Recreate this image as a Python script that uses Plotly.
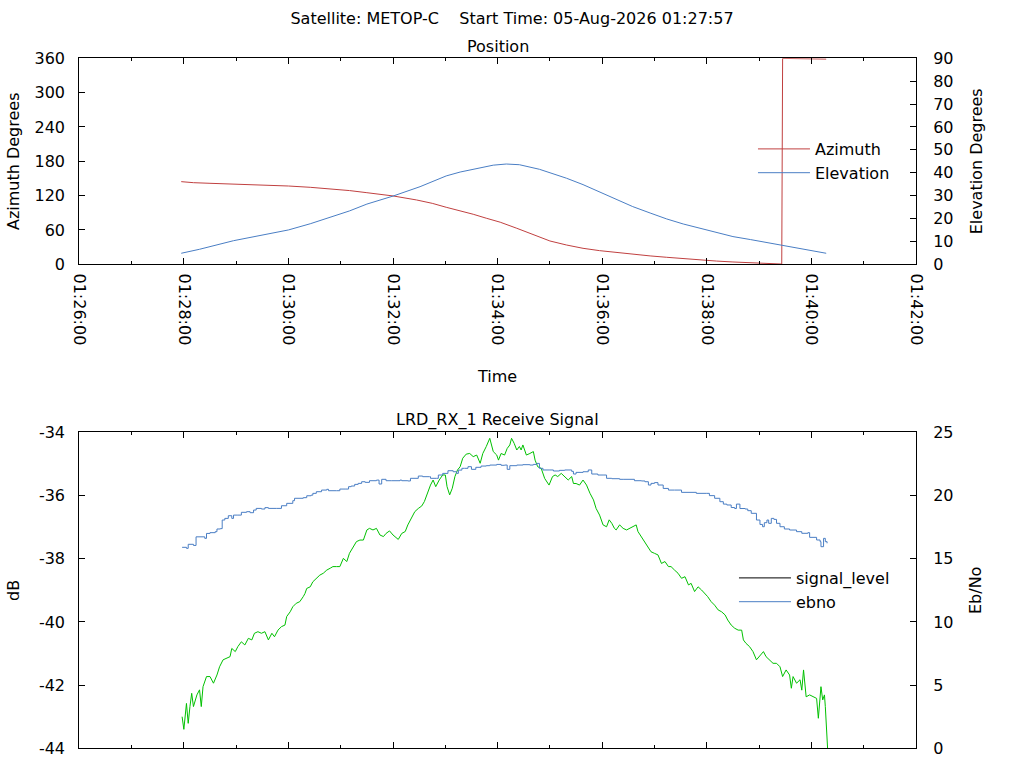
import pandas as pd
import plotly.graph_objects as go

# Passagem do satelite: segundos depois de 01:26:00
inicio = pd.Timestamp("2026-08-05 01:26:00")

# Posicao (azimute e elevacao)
az_seg = [117, 131, 150, 177, 210, 240, 265, 291, 310, 330, 360, 387, 405, 421, 437, 452, 467,
          483, 502, 521, 540, 559, 578, 597, 616, 635, 655, 674, 693, 712, 731, 750, 770, 790,
          800, 806, 807, 822, 840, 857]
azimute = [144.4, 142.6, 141.5, 140.3, 138.8, 136.8, 134.5, 131.6, 128.8, 125.1, 119.4, 112.4,
           106.5, 99.6, 93.5, 87.4, 80.5, 73.5, 62.9, 51.2, 40.7, 33.7, 27.9, 23.8, 20.5, 17.5,
           14.6, 12.2, 9.8, 7.5, 5.6, 4.0, 2.7, 1.7, 1.0, 0.4, 359.8, 359.3, 358.9, 358.6]

el_seg = [117, 138, 177, 210, 240, 265, 291, 310, 330, 360, 391, 421, 437, 452, 467, 475, 490,
          505, 528, 545, 559, 578, 597, 616, 635, 655, 674, 693, 712, 731, 750, 770, 788, 808,
          827, 842, 857]
elevacao = [4.8, 6.55, 10.3, 12.8, 15.0, 17.7, 20.8, 23.3, 26.3, 29.8, 33.9, 38.6, 40.3, 41.6,
            42.8, 43.3, 43.8, 43.5, 41.5, 39.5, 37.6, 34.8, 31.7, 28.4, 25.2, 22.4, 19.8, 17.6,
            15.7, 13.9, 12.1, 10.8, 9.6, 8.3, 7.0, 5.9, 4.8]

# Sinal recebido (dB) - linha verde
sinal_seg = [118, 120, 123, 125, 127, 129, 131, 135, 138, 140, 142, 146, 150, 154, 158, 161, 165,
             169, 173, 175, 179, 182, 186, 190, 194, 198, 201, 205, 209, 213, 217, 221, 224, 228,
             232, 236, 238, 242, 245, 249, 253, 257, 259, 261, 265, 268, 272, 276, 280, 284, 288,
             291, 295, 299, 303, 307, 310, 314, 318, 322, 326, 330, 333, 337, 341, 345, 349, 352,
             356, 360, 364, 366, 370, 374, 377, 381, 385, 389, 393, 396, 400, 403, 406, 409, 413,
             417, 420, 422, 425, 428, 431, 434, 437, 440, 444, 448, 452, 456, 460, 463, 467, 471,
             475, 479, 481, 484, 488, 491, 494, 496, 499, 502, 505, 507, 509, 513, 517, 521, 523,
             526, 530, 534, 539, 543, 546, 549, 553, 557, 561, 565, 567, 570, 574, 578, 582, 586,
             590, 593, 597, 601, 605, 608, 611, 614, 616, 620, 624, 628, 632, 636, 639, 641, 645,
             649, 653, 656, 660, 664, 668, 672, 676, 679, 683, 687, 691, 695, 699, 702, 706, 710,
             714, 718, 721, 725, 729, 733, 737, 741, 744, 748, 752, 756, 760, 762, 765, 769, 773,
             777, 781, 785, 788, 792, 796, 800, 804, 807, 811, 815, 817, 819, 823, 827, 829, 831,
             834, 838, 842, 846, 848, 851, 853, 855, 856, 858, 859]
sinal_db = [-43.0, -43.4, -42.58, -43.21, -42.68, -42.26, -42.68, -42.31, -42.15, -42.68, -42.05,
            -41.73, -41.73, -41.94, -41.68, -41.42, -41.20, -41.15, -41.10, -40.84, -40.94,
            -40.78, -40.63, -40.73, -40.52, -40.57, -40.36, -40.31, -40.36, -40.31, -40.57,
            -40.36, -40.47, -40.26, -40.15, -40.10, -39.83, -39.68, -39.52, -39.41, -39.36,
            -39.20, -39.10, -38.94, -38.89, -38.73, -38.62, -38.52, -38.46, -38.36, -38.30,
            -38.25, -38.25, -38.25, -37.99, -38.09, -37.83, -37.62, -37.46, -37.41, -37.41,
            -37.09, -37.04, -37.09, -37.04, -37.25, -37.30, -37.20, -37.12, -37.25, -37.36,
            -37.39, -37.20, -37.14, -36.93, -36.72, -36.51, -36.41, -36.33, -36.19, -35.88,
            -35.67, -35.51, -35.72, -35.51, -35.35, -35.35, -35.72, -35.98, -35.77, -35.40,
            -35.19, -35.09, -34.82, -34.69, -34.67, -34.77, -34.72, -34.98, -34.67, -34.45,
            -34.19, -34.61, -34.72, -34.88, -34.67, -34.72, -34.51, -34.40, -34.19, -34.35,
            -34.56, -34.45, -34.56, -34.40, -34.72, -34.67, -34.61, -34.88, -35.09, -35.14,
            -35.46, -35.67, -35.40, -35.35, -35.40, -35.30, -35.40, -35.51, -35.40, -35.62,
            -35.62, -35.67, -35.51, -35.67, -35.93, -36.14, -36.41, -36.62, -36.93, -36.99,
            -36.77, -36.88, -37.04, -37.09, -36.93, -37.04, -37.09, -37.04, -36.99, -36.93,
            -37.14, -37.30, -37.46, -37.62, -37.78, -37.83, -37.88, -38.15, -38.09, -38.25,
            -38.25, -38.36, -38.46, -38.62, -38.57, -38.83, -38.78, -39.04, -38.89, -38.99,
            -39.10, -39.20, -39.36, -39.47, -39.62, -39.68, -39.78, -39.94, -40.10, -40.20,
            -40.26, -40.26, -40.57, -40.68, -40.78, -40.94, -41.20, -41.05, -40.94, -41.10,
            -41.20, -41.31, -41.31, -41.42, -41.73, -41.52, -41.68, -42.10, -41.73, -41.94,
            -41.83, -42.16, -41.52, -42.37, -42.31, -42.37, -42.42, -43.05, -42.05, -42.47,
            -42.31, -42.68, -43.63, -44.2]

# Eb/No - linha azul
ebno_seg = [118, 123, 125, 131, 134, 142, 144, 146, 150, 156, 158, 162, 164, 167, 171, 175, 177,
            182, 186, 192, 196, 200, 203, 209, 213, 217, 226, 232, 238, 245, 247, 257, 261, 266,
            268, 272, 278, 284, 286, 295, 299, 305, 309, 312, 316, 320, 324, 328, 333, 341, 344,
            347, 352, 358, 368, 370, 377, 380, 389, 394, 402, 403, 410, 412, 417, 423, 429, 433,
            435, 439, 442, 446, 450, 455, 461, 467, 471, 479, 484, 488, 491, 494, 502, 509, 517,
            521, 525, 528, 532, 540, 544, 551, 557, 565, 567, 570, 578, 584, 588, 595, 601, 605,
            611, 620, 624, 637, 645, 649, 653, 656, 660, 664, 670, 676, 683, 691, 708, 720, 723,
            729, 735, 739, 743, 748, 752, 754, 758, 764, 767, 771, 777, 781, 784, 786, 789, 791,
            794, 797, 800, 804, 809, 815, 823, 829, 836, 838, 846, 850, 851, 854, 856, 858]
ebno = [15.90, 15.82, 16.14, 16.05, 16.73, 16.73, 16.61, 17.00, 17.06, 17.14, 17.35, 17.38,
        18.06, 18.19, 18.40, 18.19, 18.45, 18.45, 18.67, 18.72, 18.64, 18.85, 18.98, 18.93,
        19.04, 18.98, 18.98, 19.19, 19.38, 19.59, 19.78, 19.83, 19.98, 20.03, 20.17, 20.30,
        20.43, 20.49, 20.38, 20.38, 20.51, 20.51, 20.70, 20.75, 20.88, 20.96, 21.09, 21.04,
        21.17, 21.22, 20.91, 21.28, 21.17, 21.17, 21.22, 21.17, 21.15, 21.36, 21.54, 21.49,
        21.49, 21.36, 21.36, 21.62, 21.75, 21.96, 21.88, 21.75, 22.01, 22.15, 22.15, 22.28,
        22.07, 22.23, 22.33, 22.36, 22.41, 22.46, 22.39, 22.41, 22.07, 22.36, 22.41, 22.44,
        22.41, 22.46, 22.54, 22.15, 22.02, 22.02, 21.94, 21.99, 22.02, 21.91, 21.70, 21.83,
        21.88, 22.02, 21.70, 21.62, 21.62, 21.36, 21.33, 21.28, 21.28, 21.17, 21.15, 21.09,
        20.83, 20.96, 21.02, 20.83, 20.56, 20.43, 20.43, 20.25, 20.17, 20.17, 19.99, 19.78,
        19.51, 19.32, 19.25, 19.05, 18.97, 19.32, 18.97, 18.93, 18.80, 18.59, 18.06, 17.71,
        17.53, 17.85, 18.06, 17.80, 18.19, 18.11, 17.80, 17.53, 17.35, 17.27, 17.14, 17.01,
        17.06, 16.69, 16.48, 16.35, 15.95, 16.61, 16.35, 16.22]

# Rotulos do eixo dB (hifen comum, como no gnuplot)
db_ticks = [-44, -42, -40, -38, -36, -34]
db_rotulos = ["-44", "-42", "-40", "-38", "-36", "-34"]


def hora(segundos):
    return inicio + pd.to_timedelta(segundos, unit="s")


fonte = dict(family="DejaVu Sans", size=16, color="black")
vermelho = "#c04040"
azul = "#4a7ec4"
verde = "#00c000"

fig = go.Figure()

# Grafico de cima: posicao
fig.add_trace(go.Scatter(x=hora(az_seg), y=azimute, mode="lines", name="Azimuth",
                         line=dict(color=vermelho, width=1), xaxis="x", yaxis="y", legend="legend"))
fig.add_trace(go.Scatter(x=hora(el_seg), y=elevacao, mode="lines", name="Elevation",
                         line=dict(color=azul, width=1), xaxis="x", yaxis="y2",
                         legend="legend"))

# Grafico de baixo: sinal (a legenda do gnuplot mostra o signal_level em preto)
fig.add_trace(go.Scatter(x=hora(sinal_seg), y=sinal_db, mode="lines", showlegend=False,
                         line=dict(color=verde, width=1), xaxis="x2", yaxis="y3"))
fig.add_trace(go.Scatter(x=[inicio], y=[None], mode="lines", name="signal_level", showlegend=True,
                         line=dict(color="black", width=1), xaxis="x2", yaxis="y3", legend="legend2"))
fig.add_trace(go.Scatter(x=hora(ebno_seg), y=ebno, mode="lines", name="ebno",
                         line=dict(color=azul, width=1, shape="hv"), xaxis="x2", yaxis="y4",
                         legend="legend2"))

faixa_x = [hora(0), hora(960)]
dom_x = [0.0774, 0.8945]
eixo_x = dict(domain=dom_x, range=faixa_x, type="date", dtick=120000, tick0=inicio,
              tickformat="%H:%M:%S", ticks="inside", ticklen=6, tickcolor="black",
              minor=dict(ticks="inside", dtick=60000, ticklen=3, tickcolor="black"),
              showline=True, linecolor="black", linewidth=1, mirror="ticks",
              showgrid=False, zeroline=False, tickfont=fonte, automargin=False)
eixo_y = dict(ticks="inside", ticklen=6, tickcolor="black", showline=True, linecolor="black",
              linewidth=1, showgrid=False, zeroline=False, tickfont=fonte, automargin=False)

fig.update_layout(
    width=1024, height=768,
    margin=dict(l=0, r=0, t=0, b=0),
    paper_bgcolor="white", plot_bgcolor="white",
    font=fonte,
    title=dict(text="Satellite: METOP-C\u00a0\u00a0\u00a0\u00a0Start Time: 05-Aug-2026 01:27:57",
               x=0.5, xanchor="center", y=1 - 18 / 768, yanchor="middle", font=fonte),
    xaxis=dict(eixo_x, anchor="y", tickangle=90, ticklabelstandoff=5,
               title=dict(text="Time", font=fonte, standoff=26)),
    yaxis=dict(eixo_y, domain=[0.6559, 0.9241], range=[0, 360], dtick=60, anchor="x",
               ticklabelstandoff=10, title=dict(text="Azimuth Degrees", font=fonte, standoff=10)),
    yaxis2=dict(eixo_y, range=[0, 90], dtick=10, overlaying="y", side="right", anchor="x",
                ticklabelstandoff=13, title=dict(text="Elevation Degrees", font=fonte, standoff=18)),
    xaxis2=dict(eixo_x, anchor="y3", showticklabels=False),
    yaxis3=dict(eixo_y, domain=[0.02565, 0.4371], range=[-44, -34], tickvals=db_ticks,
                ticktext=db_rotulos, anchor="x2", ticklabelstandoff=10,
                title=dict(text="dB", font=fonte, standoff=15)),
    yaxis4=dict(eixo_y, range=[0, 25], dtick=5, overlaying="y3", side="right", anchor="x2",
                ticklabelstandoff=13, title=dict(text="Eb/No", font=fonte, standoff=17)),
    legend=dict(x=0.874, xanchor="right", y=1 - 132 / 768, yanchor="top", bgcolor="rgba(0,0,0,0)",
                font=fonte, itemwidth=52, tracegroupgap=0),
    legend2=dict(x=0.874, xanchor="right", y=1 - 561 / 768, yanchor="top", bgcolor="rgba(0,0,0,0)",
                 font=fonte, itemwidth=52, tracegroupgap=0),
    annotations=[
        dict(text="Position", x=sum(dom_x) / 2, y=1 - 46 / 768, xref="paper", yref="paper",
             showarrow=False, font=fonte, xanchor="center", yanchor="middle"),
        dict(text="LRD_RX_1 Receive Signal", x=sum(dom_x) / 2, y=1 - 420 / 768, xref="paper",
             yref="paper", showarrow=False, font=fonte, xanchor="center", yanchor="middle"),
    ],
)

# Tirando a margem padrao do body para a figura ocupar a janela toda
fig.write_html("out.html", config={"displayModeBar": False},
               post_script="document.body.style.margin='0px';")
